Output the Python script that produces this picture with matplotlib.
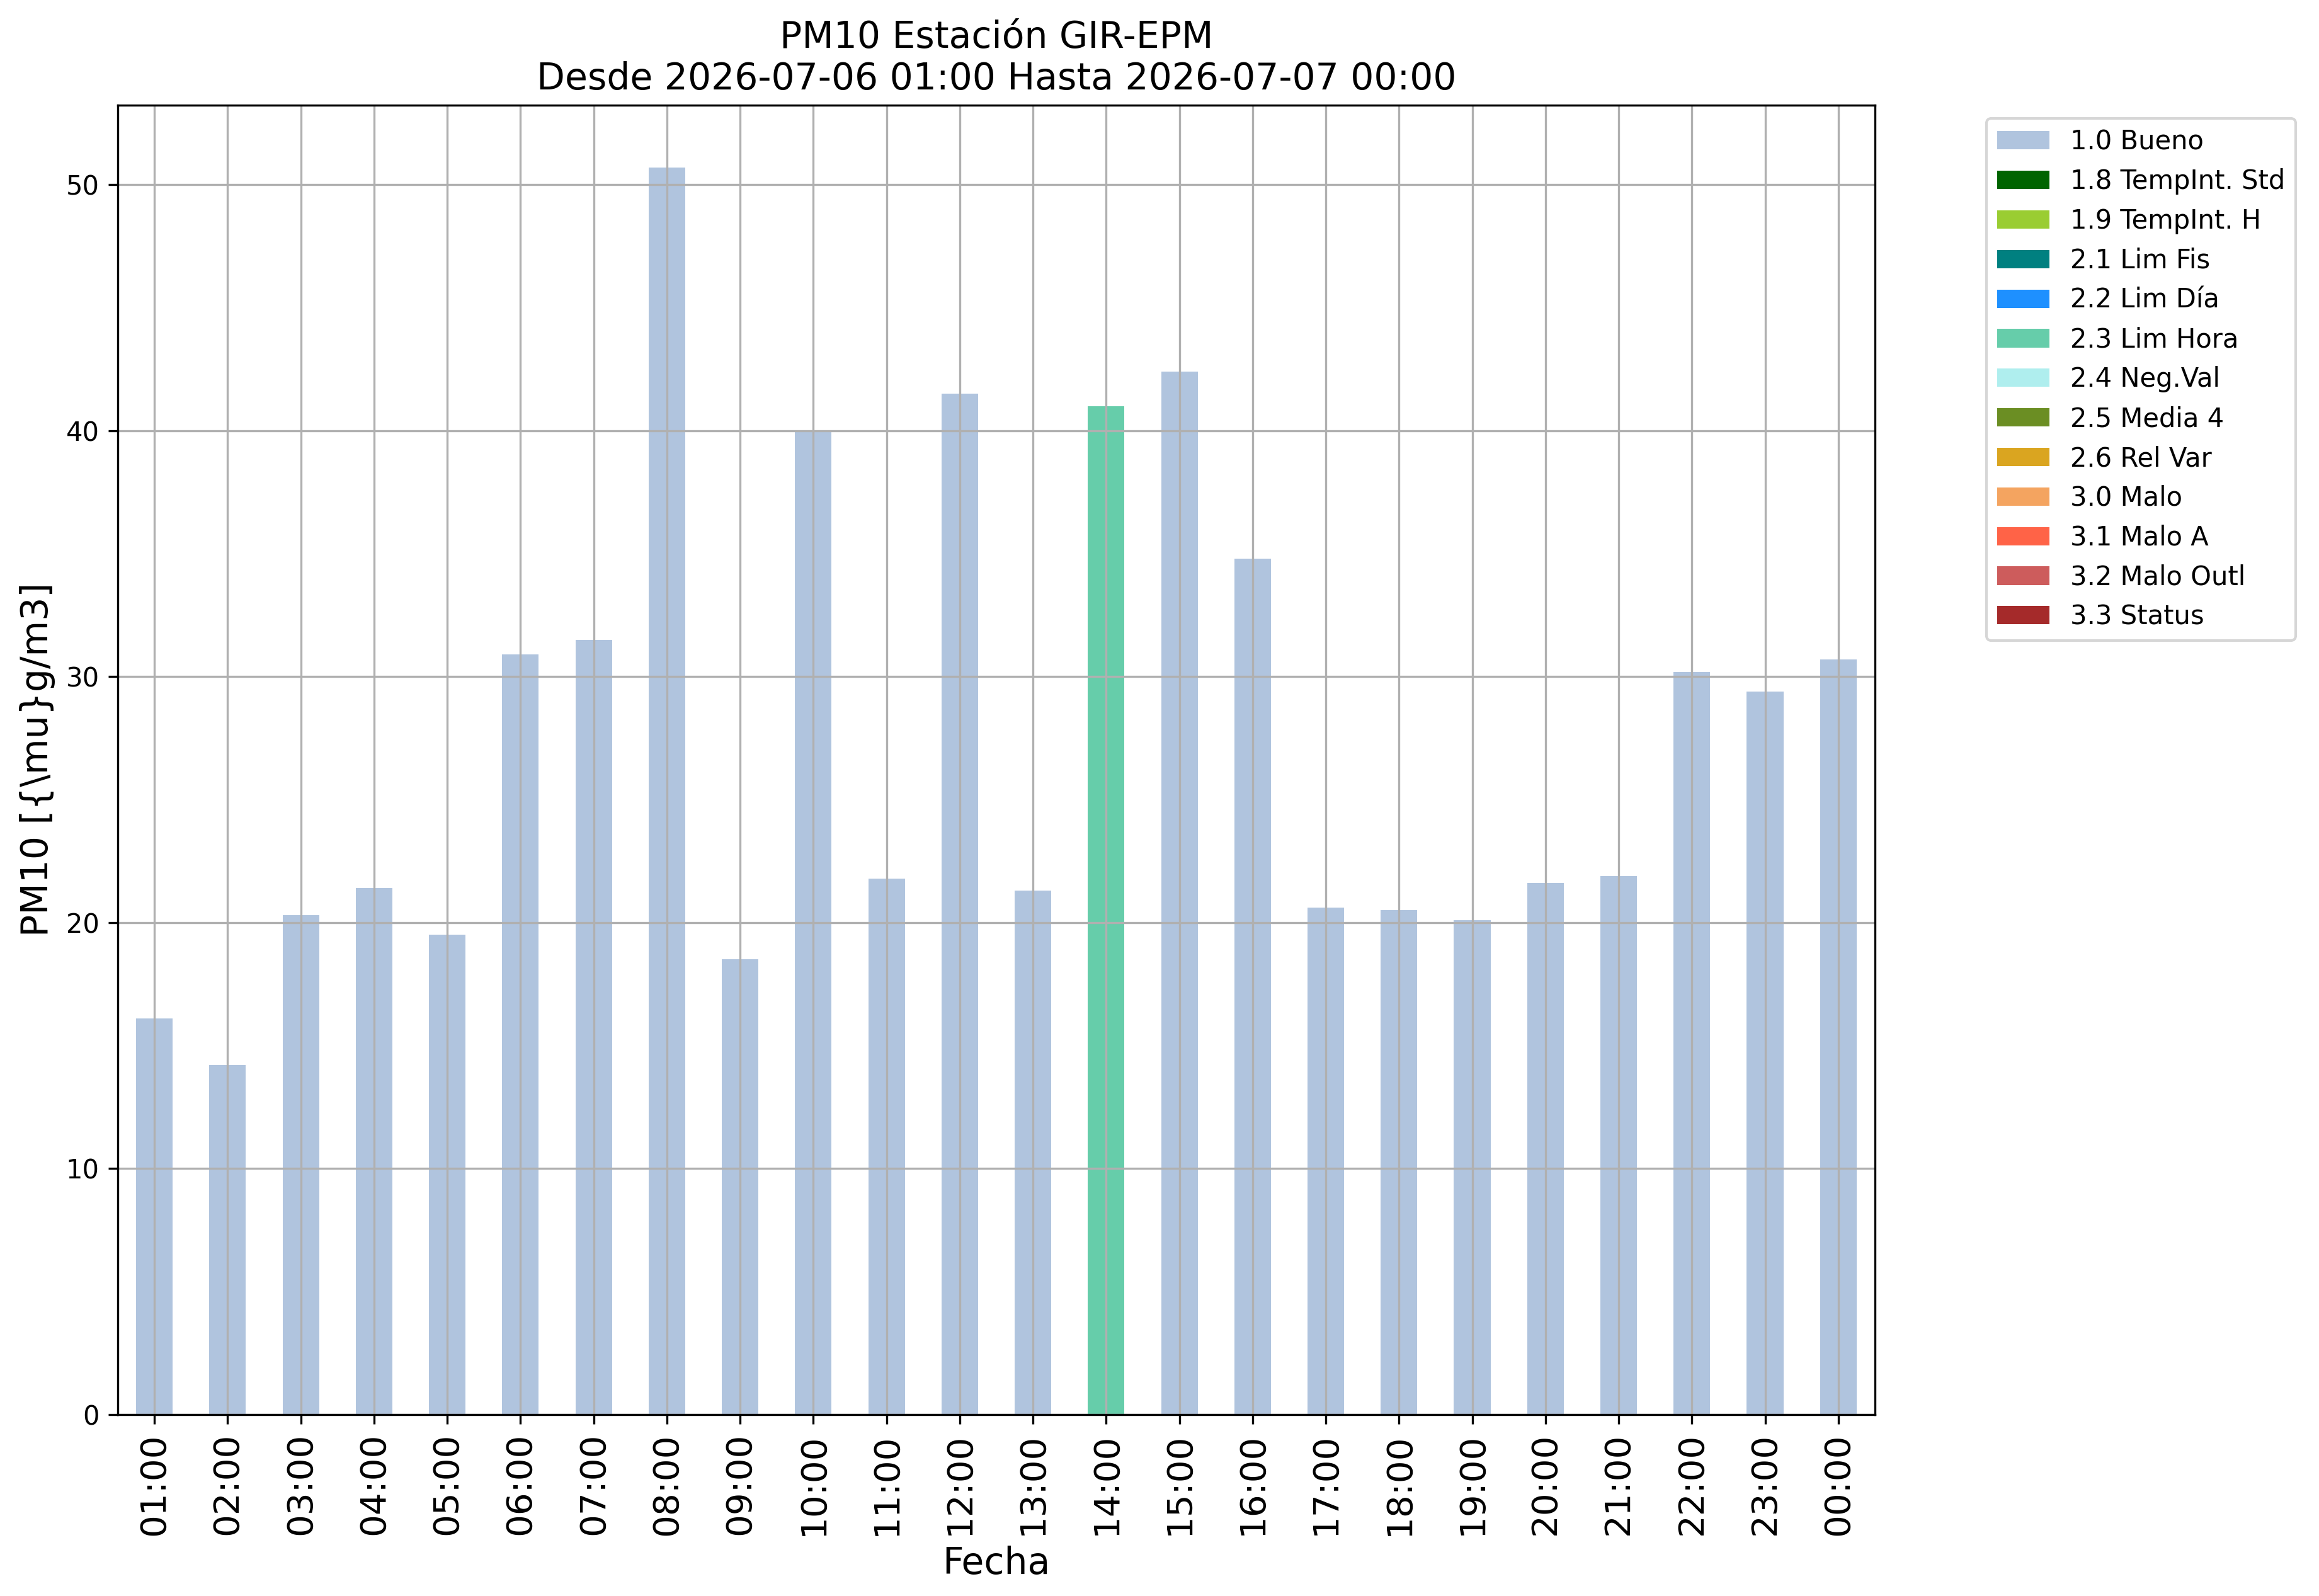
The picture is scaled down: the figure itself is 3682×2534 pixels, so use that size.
import matplotlib
matplotlib.use("Agg")
import matplotlib.pyplot as plt
import numpy as np

# horas y valores de PM10
horas = ["01:00", "02:00", "03:00", "04:00", "05:00", "06:00", "07:00", "08:00",
         "09:00", "10:00", "11:00", "12:00", "13:00", "14:00", "15:00", "16:00",
         "17:00", "18:00", "19:00", "20:00", "21:00", "22:00", "23:00", "00:00"]
pm10 = [16.1, 14.2, 20.3, 21.4, 19.5, 30.9, 31.5, 50.7,
        18.5, 39.95, 21.8, 41.5, 21.3, 41.0, 42.4, 34.8,
        20.6, 20.5, 20.1, 21.6, 21.9, 30.2, 29.4, 30.7]
banderas = ["1.0 Bueno"] * 24
banderas[13] = "2.3 Lim Hora"

# categorias de calidad y colores
categorias = ["1.0 Bueno", "1.8 TempInt. Std", "1.9 TempInt. H", "2.1 Lim Fis",
              "2.2 Lim Día", "2.3 Lim Hora", "2.4 Neg.Val", "2.5 Media 4",
              "2.6 Rel Var", "3.0 Malo", "3.1 Malo A", "3.2 Malo Outl", "3.3 Status"]
colores = ["lightsteelblue", "darkgreen", "yellowgreen", "teal",
           "dodgerblue", "mediumaquamarine", "paleturquoise", "olivedrab",
           "goldenrod", "sandybrown", "tomato", "indianred", "brown"]

fig = plt.figure(figsize=(3682 / 300, 2534 / 300), dpi=300)
ax = fig.add_axes([0.0508, 0.1137, 0.7577, 0.8204])

x = np.arange(len(horas))
fondo = np.zeros(len(horas))
for cat, col in zip(categorias, colores):
    alturas = np.array([v if b == cat else 0.0 for v, b in zip(pm10, banderas)])
    ax.bar(x, alturas, width=0.5, bottom=fondo, color=col, label=cat)
    fondo += alturas

ax.set_xlim(-0.5, len(horas) - 0.5)
ax.set_ylim(0, max(pm10) * 1.05)
ax.set_xticks(x)
ax.set_xticklabels(horas, rotation=90, fontsize=13.5)
ax.tick_params(axis="y", labelsize=10)
ax.grid(True)

ax.set_title("PM10 Estación GIR-EPM\nDesde 2026-07-06 01:00 Hasta 2026-07-07 00:00", fontsize=14)
ax.set_xlabel("Fecha", fontsize=14)
ax.set_ylabel("PM10 [{\\mu}g/m3]", fontsize=14)

ax.legend(bbox_to_anchor=(1.056, 1), loc="upper left", fontsize=10)

fig.savefig("out.png", dpi=300)
